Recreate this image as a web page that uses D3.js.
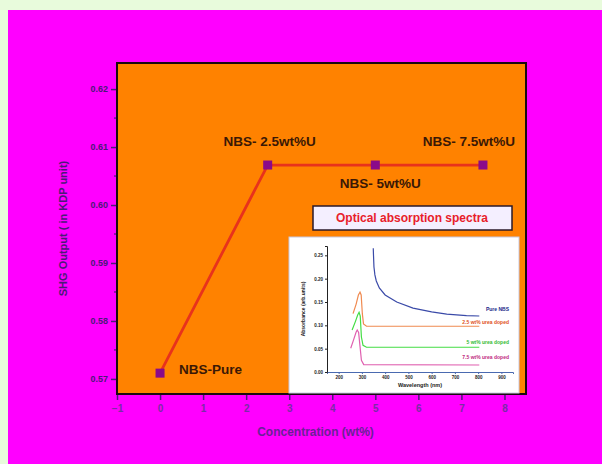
<!DOCTYPE html>
<html>
<head>
<meta charset="utf-8">
<script src="https://cdn.jsdelivr.net/npm/d3@7"></script>
<style>
  body { margin: 0; padding: 0; }
  svg { display: block; font-family: "Liberation Sans", Arial, sans-serif; }
</style>
</head>
<body>
<script>
// main series
var concentration = [0, 2.5, 5, 7.5];
var shgOutput = [0.571, 0.6069, 0.6069, 0.6069];
var pointLabels = ["NBS-Pure", "NBS- 2.5wt%U", "NBS- 5wt%U", "NBS- 7.5wt%U"];
var xTicks = [-1, 0, 1, 2, 3, 4, 5, 6, 7, 8];
var yTicks = [0.57, 0.58, 0.59, 0.60, 0.61, 0.62];

// inset: optical absorption spectra (wavelength nm, absorbance)
var insetNames = ["Pure NBS", "2.5 wt% urea doped", "5 wt% urea doped", "7.5 wt% urea doped"];
var spectrumPure = [[349, 0.265], [350, 0.25], [352, 0.225], [356, 0.208], [362, 0.195], [375, 0.18],
  [400, 0.165], [450, 0.15], [520, 0.137], [600, 0.129], [665, 0.124], [750, 0.121], [805, 0.12]];
var spectrum25 = [[262, 0.125], [275, 0.145], [285, 0.165], [292, 0.171], [297, 0.165], [302, 0.125],
  [307, 0.103], [320, 0.098], [805, 0.098]];
var spectrum5 = [[258, 0.09], [272, 0.108], [282, 0.122], [288, 0.128], [293, 0.12], [298, 0.075],
  [305, 0.057], [320, 0.053], [805, 0.053]];
var spectrum75 = [[252, 0.051], [265, 0.07], [275, 0.085], [280, 0.09], [286, 0.085], [292, 0.055],
  [298, 0.025], [308, 0.016], [805, 0.015]];
var insetXTicks = [200, 300, 400, 500, 600, 700, 800, 900];
var insetYTicks = [0, 0.05, 0.10, 0.15, 0.20, 0.25];

var width = 602,
    height = 464;

var plotLeft = 117, plotRight = 526, plotTop = 63, plotBottom = 394;
var axisColor = "#4b1a78";

var svg = d3.select("body").append("svg")
    .attr("width", width)
    .attr("height", height);

svg.append("rect").attr("width", width).attr("height", height).attr("fill", "#e8fbdc");
svg.append("rect").attr("x", 8).attr("y", 10).attr("width", width - 8).attr("height", height - 10)
    .attr("fill", "#ff00ff");

var x = d3.scaleLinear().domain([-1, 8.5]).range([plotLeft, plotRight]);
var y = d3.scaleLinear().domain([0.5674, 0.6245]).range([plotBottom, plotTop]);

svg.append("rect")
    .attr("x", plotLeft).attr("y", plotTop)
    .attr("width", plotRight - plotLeft).attr("height", plotBottom - plotTop)
    .attr("fill", "#ff8200");

// y axis
var yAxis = svg.append("g")
    .attr("transform", "translate(" + plotLeft + ",0)")
    .call(d3.axisLeft(y).tickValues(yTicks).tickSize(6).tickPadding(3).tickFormat(d3.format(".2f")));
yAxis.select(".domain").remove();
yAxis.selectAll("line").attr("stroke", axisColor).attr("stroke-width", 1.5);
yAxis.selectAll("text").attr("fill", axisColor).attr("font-size", 9).attr("font-weight", "bold")
    .attr("font-family", "Liberation Sans, Arial, sans-serif");

svg.append("g").selectAll("line")
    .data(yTicks.slice(0, -1).map(function(d) { return d + 0.005; }))
    .enter().append("line")
    .attr("x1", plotLeft - 3).attr("x2", plotLeft)
    .attr("y1", function(d) { return y(d); }).attr("y2", function(d) { return y(d); })
    .attr("stroke", axisColor).attr("stroke-width", 1.2);

// x axis
var xAxis = svg.append("g")
    .attr("transform", "translate(0," + plotBottom + ")")
    .call(d3.axisBottom(x).tickValues(xTicks).tickSize(6).tickPadding(5).tickFormat(d3.format("d")));
xAxis.select(".domain").remove();
xAxis.selectAll("line").attr("stroke", axisColor).attr("stroke-width", 1.5);
xAxis.selectAll("text").attr("fill", "#7a2ca6").attr("font-size", 10).attr("font-weight", "bold")
    .attr("font-family", "Liberation Sans, Arial, sans-serif");

// frame
svg.append("rect")
    .attr("x", plotLeft).attr("y", plotTop)
    .attr("width", plotRight - plotLeft).attr("height", plotBottom - plotTop)
    .attr("fill", "none").attr("stroke", "#1a0a10").attr("stroke-width", 2);

svg.append("text")
    .attr("transform", "translate(67," + ((plotTop + plotBottom) / 2) + ") rotate(-90)")
    .attr("text-anchor", "middle")
    .attr("fill", axisColor).attr("font-size", 11).attr("font-weight", "bold")
    .text("SHG Output ( in KDP unit)");

svg.append("text")
    .attr("x", (plotLeft + plotRight) / 2 - 6).attr("y", 436)
    .attr("text-anchor", "middle")
    .attr("fill", "#6a2096").attr("font-size", 12).attr("font-weight", "bold")
    .text("Concentration (wt%)");

// main line
var points = concentration.map(function(c, i) { return [c, shgOutput[i]]; });
svg.append("path")
    .datum(points)
    .attr("fill", "none")
    .attr("stroke", "#e8321c")
    .attr("stroke-width", 2.8)
    .attr("d", d3.line().x(function(d) { return x(d[0]); }).y(function(d) { return y(d[1]); }));

svg.selectAll("rect.pt")
    .data(points)
    .enter().append("rect")
    .attr("class", "pt")
    .attr("x", function(d) { return x(d[0]) - 4.5; })
    .attr("y", function(d) { return y(d[1]) - 4.5; })
    .attr("width", 9).attr("height", 9)
    .attr("fill", "#8a0a8a");

// point labels: offsets relative to each point
var labelOffsets = [[19, 1, "start"], [2, -19, "middle"], [5, 23, "middle"], [-14, -19, "middle"]];
svg.selectAll("text.pl")
    .data(points)
    .enter().append("text")
    .attr("class", "pl")
    .attr("x", function(d, i) { return x(d[0]) + labelOffsets[i][0]; })
    .attr("y", function(d, i) { return y(d[1]) + labelOffsets[i][1]; })
    .attr("text-anchor", function(d, i) { return labelOffsets[i][2]; })
    .attr("fill", "#3a1806").attr("font-size", 13.5).attr("font-weight", "bold")
    .text(function(d, i) { return pointLabels[i]; });

// inset
var inset = svg.append("g");
inset.append("rect")
    .attr("x", 289).attr("y", 237).attr("width", 230).attr("height", 156)
    .attr("fill", "#ffffff").attr("stroke", "#c8c8e0").attr("stroke-width", 1);

var ix = d3.scaleLinear().domain([150, 950]).range([327, 513]);
var iy = d3.scaleLinear().domain([0, 0.27]).range([372, 246]);

var ixAxis = inset.append("g")
    .attr("transform", "translate(0,372)")
    .call(d3.axisBottom(ix).tickValues(insetXTicks).tickSize(2).tickPadding(2));
ixAxis.select(".domain").attr("stroke", "#4a6ab0");
ixAxis.selectAll("line").attr("stroke", "#4a6ab0");
ixAxis.selectAll("text").attr("font-size", 4.5).attr("fill", "#222").attr("font-weight", "bold");

var iyAxis = inset.append("g")
    .attr("transform", "translate(327,0)")
    .call(d3.axisLeft(iy).tickValues(insetYTicks).tickSize(2).tickPadding(2).tickFormat(d3.format(".2f")));
iyAxis.select(".domain").attr("stroke", "#222");
iyAxis.selectAll("line").attr("stroke", "#222");
iyAxis.selectAll("text").attr("font-size", 4.5).attr("fill", "#222").attr("font-weight", "bold");

inset.append("text")
    .attr("x", 420).attr("y", 387).attr("text-anchor", "middle")
    .attr("font-size", 5.5).attr("font-weight", "bold").attr("fill", "#222")
    .text("Wavelength (nm)");
inset.append("text")
    .attr("transform", "translate(305,309) rotate(-90)")
    .attr("text-anchor", "middle")
    .attr("font-size", 5).attr("font-weight", "bold").attr("fill", "#222")
    .text("Absorbance (arb.units)");

var spectra = [spectrumPure, spectrum25, spectrum5, spectrum75];
var spectraColors = ["#3a4aa8", "#f08a50", "#44dd44", "#e060b0"];
var nameColors = ["#1a2a8a", "#e05020", "#33bb33", "#c02a80"];
var nameY = [0.13, 0.103, 0.06, 0.028];

var iline = d3.line().x(function(d) { return ix(d[0]); }).y(function(d) { return iy(d[1]); });
inset.selectAll("path.sp")
    .data(spectra)
    .enter().append("path")
    .attr("class", "sp")
    .attr("fill", "none")
    .attr("stroke", function(d, i) { return spectraColors[i]; })
    .attr("stroke-width", 1.2)
    .attr("d", iline);

inset.selectAll("text.nm")
    .data(insetNames)
    .enter().append("text")
    .attr("class", "nm")
    .attr("x", 509)
    .attr("y", function(d, i) { return iy(nameY[i]); })
    .attr("text-anchor", "end")
    .attr("font-size", 5).attr("font-weight", "bold")
    .attr("fill", function(d, i) { return nameColors[i]; })
    .text(function(d) { return d; });

// inset title box
svg.append("rect")
    .attr("x", 313).attr("y", 206).attr("width", 199).attr("height", 24)
    .attr("fill", "#f4efff").attr("stroke", "#2a1a2a").attr("stroke-width", 1.5);
svg.append("text")
    .attr("x", 412).attr("y", 222).attr("text-anchor", "middle")
    .attr("fill", "#e8202a").attr("font-size", 12).attr("font-weight", "bold")
    .text("Optical absorption spectra");
</script>
</body>
</html>
